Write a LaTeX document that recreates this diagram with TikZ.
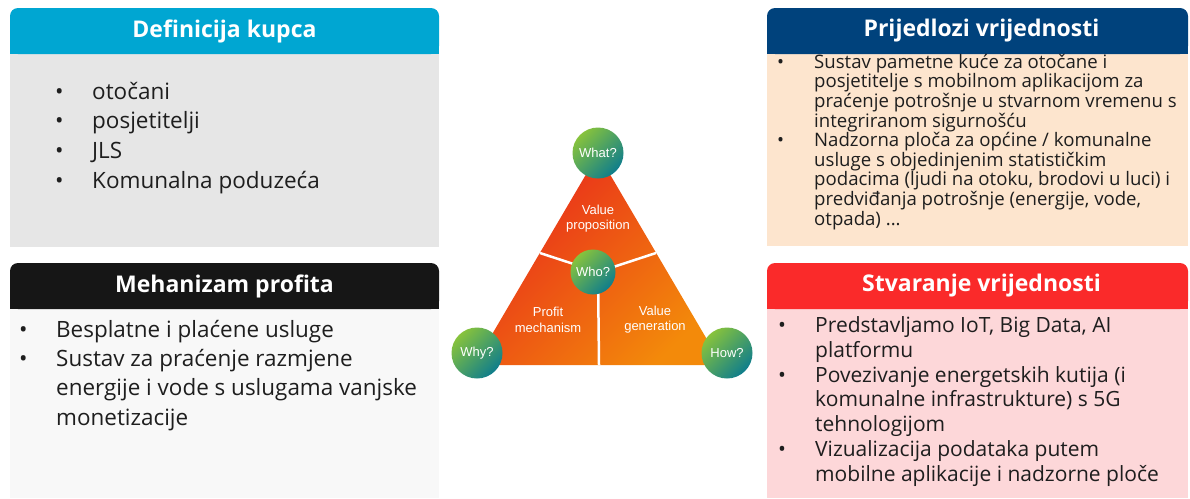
\documentclass[tikz,border=0pt]{standalone}
\usepackage{fontspec}
\setmainfont{Open Sans}
\newfontfamily\arialfont{Liberation Sans}
\usepackage{tikz}

\definecolor{kupac}{RGB}{0,166,210}
\definecolor{kupacbg}{RGB}{230,230,230}
\definecolor{profit}{RGB}{22,22,22}
\definecolor{profitbg}{RGB}{248,248,248}
\definecolor{prijedlog}{RGB}{0,66,124}
\definecolor{prijedlogbg}{RGB}{253,229,206}
\definecolor{stvaranje}{RGB}{250,42,42}
\definecolor{stvaranjebg}{RGB}{253,215,217}
\definecolor{trired}{RGB}{232,40,28}
\definecolor{triorange}{RGB}{243,138,10}
\definecolor{qgreen}{RGB}{135,195,60}
\definecolor{qteal}{RGB}{15,125,140}
\definecolor{bodytext}{RGB}{30,30,30}

\newcommand{\bitem}{\makebox[37pt][l]{•}}
\newcommand{\bcont}{\hspace*{37pt}}
\newcommand{\tightlines}{\lineskiplimit=-100pt\relax\lineskip=0pt\relax}

\tikzset{
  headbar/.style={rounded corners=8pt},
  header/.style={inner sep=0pt, text=white, font=\bfseries\fontsize{23}{28}\selectfont},
  bodytxt/.style={anchor=base west, align=left, inner sep=0pt, text=bodytext},
  question/.style={circle, minimum size=51pt, inner sep=0pt,
    top color=qgreen, bottom color=qteal, shading angle=45, text=white,
    font=\arialfont\fontsize{13}{15}\selectfont},
  tritext/.style={align=center, text=white, font=\arialfont\fontsize{13}{15.7}\selectfont},
  divider/.style={white, line width=2.5pt},
}

\begin{document}
\begin{tikzpicture}[x=1pt, y=-1pt]
    \useasboundingbox (0,0) rectangle (1190,498);

    \fill[kupacbg] (10,54) rectangle (439,247);
    \fill[kupac, headbar] (10,8) rectangle (439,54);
    \fill[kupac] (10,31) rectangle (439,54);
    \node[header] at (224.5,31) (kupachead) {Definicija kupca};
    \node[bodytxt, font=\fontsize{22.5}{29.6}\selectfont] at (55,188) (kupacbody)
      {\bitem otočani\\ \bitem posjetitelji\\ \bitem JLS\\ \bitem Komunalna poduzeća};

    \fill[profitbg] (10,309) rectangle (439,498);
    \fill[profit, headbar] (10,263) rectangle (439,309);
    \fill[profit] (10,286) rectangle (439,309);
    \node[header] at (224.5,286) (profithead) {Mehanizam profita};
    \node[bodytxt, font=\fontsize{22.45}{29.3}\selectfont] at (19,425) (profitbody)
      {\bitem Besplatne i plaćene usluge\\ \bitem Sustav za praćenje razmjene\\
       \bcont energije i vode s uslugama vanjske\\ \bcont monetizacije};

    \fill[prijedlogbg] (767,54) rectangle (1188,246);
    \fill[prijedlog, headbar] (767,8) rectangle (1188,54);
    \fill[prijedlog] (767,31) rectangle (1188,54);
    \node[header] at (981.5,31) (prijedloghead) {Prijedlozi vrijednosti};
    \node[bodytxt, font={\fontsize{18.6}{19.6}\selectfont\tightlines}] at (777,225) (prijedlogbody)
      {\bitem Sustav pametne kuće za otočane i\\ \bcont posjetitelje s mobilnom aplikacijom za\\
       \bcont praćenje potrošnje u stvarnom vremenu s\\ \bcont integriranom sigurnošću\\
       \bitem Nadzorna ploča za općine / komunalne\\ \bcont usluge s objedinjenim statističkim\\
       \bcont podacima (ljudi na otoku, brodovi u luci) i\\ \bcont predviđanja potrošnje (energije, vode,\\
       \bcont otpada) ...};

    \fill[stvaranjebg] (767,309) rectangle (1188,498);
    \fill[stvaranje, headbar] (767,263) rectangle (1188,309);
    \fill[stvaranje] (767,286) rectangle (1188,309);
    \node[header] at (981.5,286) (stvaranjehead) {Stvaranje vrijednosti};
    \node[bodytxt, font=\fontsize{21}{24.7}\selectfont] at (778,481) (stvaranjebody)
      {\bitem Predstavljamo IoT, Big Data, AI\\ \bcont platformu\\
       \bitem Povezivanje energetskih kutija (i\\ \bcont komunalne infrastrukture) s 5G\\ \bcont tehnologijom\\
       \bitem Vizualizacija podataka putem\\ \bcont mobilne aplikacije i nadzorne ploče};

    \shade[top color=trired, bottom color=triorange, shading angle=45] (598,154) -- (474,365) -- (722,365) -- cycle;
    \coordinate (tricenter) at (598,272);
    \coordinate (leftcut) at (540,253);
    \coordinate (rightcut) at (656,253);
    \coordinate (basecut) at (599,365);
    \draw[divider] (tricenter) -- (leftcut);
    \draw[divider] (tricenter) -- (rightcut);
    \draw[divider] (tricenter) -- (basecut);

    \node[tritext] at (598,218.5) (propozicija) {Value\\proposition};
    \node[tritext] at (548,319.5) (mehanizam) {Profit\\mechanism};
    \node[tritext] at (655,319.5) (generacija) {Value\\generation};

    \node[question] at (598,153) (what) {What?};
    \node[question, minimum size=45pt] at (593,272) (who) {Who?};
    \node[question] at (477,353) (why) {Why?};
    \node[question] at (727,353) (how) {How?};
\end{tikzpicture}
\end{document}
